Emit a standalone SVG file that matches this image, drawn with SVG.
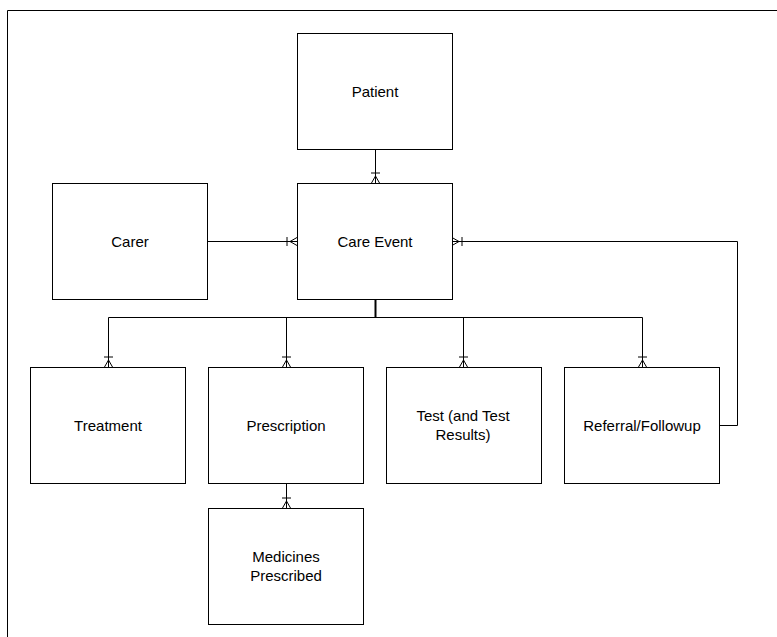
<svg xmlns="http://www.w3.org/2000/svg" width="777" height="637" viewBox="0 0 777 637">
<style>
.box{fill:#fff;stroke:#000;stroke-width:1}
.lbl{font-family:"Liberation Sans",Arial,sans-serif;font-size:15px;fill:#000;text-anchor:middle}
.con{fill:none;stroke:#000;stroke-width:1}
</style>
<defs>
<g id="cf">
<line x1="-4.5" y1="-10" x2="4.5" y2="-10" stroke="#000" stroke-width="1"/>
<path d="M-4,0 L0,-7 L4,0 M0,-7 L0,0" fill="none" stroke="#000" stroke-width="1"/>
</g>
</defs>
<rect x="0" y="0" width="777" height="637" fill="#fff"/>
<path d="M7.5,637 L7.5,10.5 L777,10.5" fill="none" stroke="#000" stroke-width="1"/>

<g id="connectors">
<line class="con" x1="375.5" y1="149" x2="375.5" y2="183"/>
<line class="con" x1="207" y1="241.5" x2="297" y2="241.5"/>
<path class="con" d="M719,425.5 L737.5,425.5 L737.5,241.5 L452,241.5"/>
<line x1="375.5" y1="299" x2="375.5" y2="317" stroke="#000" stroke-width="2"/>
<path class="con" d="M108.5,367 L108.5,317.5 L642.5,317.5 L642.5,367"/>
<line class="con" x1="286.5" y1="317.5" x2="286.5" y2="367"/>
<line class="con" x1="463.5" y1="317.5" x2="463.5" y2="367"/>
<line class="con" x1="286.5" y1="483" x2="286.5" y2="508"/>
<use href="#cf" transform="translate(375.5,183)"/>
<use href="#cf" transform="translate(297,241.5) rotate(-90)"/>
<use href="#cf" transform="translate(452,241.5) rotate(90)"/>
<use href="#cf" transform="translate(108.5,367)"/>
<use href="#cf" transform="translate(286.5,367)"/>
<use href="#cf" transform="translate(463.5,367)"/>
<use href="#cf" transform="translate(642.5,367)"/>
<use href="#cf" transform="translate(286.5,508)"/>
</g>

<g id="patient"><rect class="box" x="297.5" y="33.5" width="155" height="116"/><text class="lbl" x="375" y="97">Patient</text></g>
<g id="care-event"><rect class="box" x="297.5" y="183.5" width="155" height="116"/><text class="lbl" x="375" y="247">Care Event</text></g>
<g id="carer"><rect class="box" x="52.5" y="183.5" width="155" height="116"/><text class="lbl" x="130" y="247">Carer</text></g>
<g id="treatment"><rect class="box" x="30.5" y="367.5" width="155" height="116"/><text class="lbl" x="108" y="431">Treatment</text></g>
<g id="prescription"><rect class="box" x="208.5" y="367.5" width="155" height="116"/><text class="lbl" x="286" y="431">Prescription</text></g>
<g id="test"><rect class="box" x="386.5" y="367.5" width="155" height="116"/><text class="lbl" x="463" y="421">Test (and Test</text><text class="lbl" x="463" y="440">Results)</text></g>
<g id="referral"><rect class="box" x="564.5" y="367.5" width="155" height="116"/><text class="lbl" x="642" y="431">Referral/Followup</text></g>
<g id="medicines"><rect class="box" x="208.5" y="508.5" width="155" height="116"/><text class="lbl" x="286" y="562">Medicines</text><text class="lbl" x="286" y="581">Prescribed</text></g>
</svg>
